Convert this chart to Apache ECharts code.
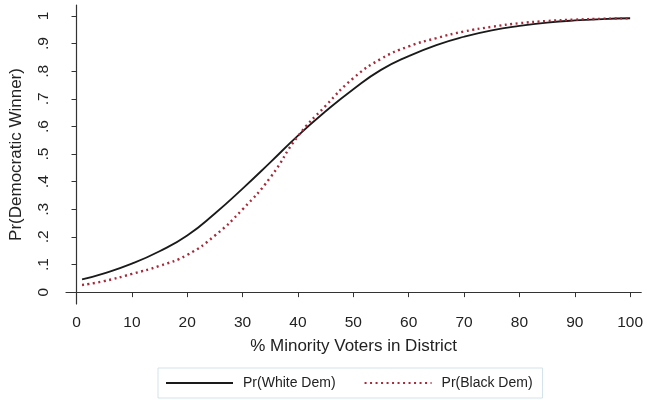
<!DOCTYPE html>
<html>
<head>
<meta charset="utf-8">
<script src="https://cdn.jsdelivr.net/npm/echarts@6/dist/echarts.min.js"></script>
<style>html,body{margin:0;padding:0;background:#fff;}#c{width:646px;height:400px;}</style>
</head>
<body>
<div id="c"></div>
<script>
var xValues = [1, 5, 10, 15, 20, 25, 30, 35, 40, 45, 50, 55, 60, 65, 70, 75, 80, 85, 90, 95, 100];
var whiteDem = [0.046, 0.068, 0.103, 0.148, 0.205, 0.285, 0.375, 0.47, 0.567, 0.655, 0.735, 0.805, 0.855, 0.895, 0.925, 0.948, 0.964, 0.976, 0.984, 0.989, 0.992];
var blackDem = [0.026, 0.04, 0.066, 0.095, 0.135, 0.205, 0.30, 0.415, 0.565, 0.675, 0.775, 0.845, 0.89, 0.92, 0.944, 0.961, 0.974, 0.982, 0.987, 0.99, 0.992];
var xTicks = [0, 10, 20, 30, 40, 50, 60, 70, 80, 90, 100];
var yTicks = [0, 0.1, 0.2, 0.3, 0.4, 0.5, 0.6, 0.7, 0.8, 0.9, 1];
var yTickLabels = ['0', '.1', '.2', '.3', '.4', '.5', '.6', '.7', '.8', '.9', '1'];
var seriesNames = ['Pr(White Dem)', 'Pr(Black Dem)'];

var font = 'Liberation Sans, Arial, Helvetica, sans-serif';
function pairs(ys) { return xValues.map(function (x, i) { return [x, ys[i]]; }); }
function yLabel(v) {
  for (var i = 0; i < yTicks.length; i++) { if (Math.abs(yTicks[i] - v) < 1e-6) return yTickLabels[i]; }
  return '';
}
var chart = echarts.init(document.getElementById('c'), null, {renderer: 'canvas'});
chart.setOption({
  backgroundColor: '#ffffff',
  animation: false,
  textStyle: {fontFamily: font},
  grid: {left: 62, right: 4, top: 5, bottom: 96, containLabel: false},
  xAxis: {
    type: 'value', min: -1.9, max: 102,
    name: '% Minority Voters in District', nameLocation: 'middle', nameGap: 34,
    nameTextStyle: {fontSize: 17, color: '#222', fontFamily: font},
    axisLine: {lineStyle: {color: '#333', width: 1.2}},
    axisTick: {show: true, length: 5, lineStyle: {color: '#333'}, customValues: xTicks},
    axisLabel: {fontSize: 15.5, color: '#222', margin: 11, customValues: xTicks, fontFamily: font},
    splitLine: {show: false}
  },
  yAxis: {
    type: 'value', min: -0.043, max: 1.04,
    name: 'Pr(Democratic Winner)', nameLocation: 'middle', nameGap: 41,
    nameTextStyle: {fontSize: 17, color: '#222', fontFamily: font},
    axisLine: {show: true, lineStyle: {color: '#333', width: 1.2}},
    axisTick: {show: true, length: 5, lineStyle: {color: '#333'}, customValues: yTicks},
    axisLabel: {fontSize: 15.5, color: '#222', margin: 14, rotate: 90, customValues: yTicks, formatter: yLabel, fontFamily: font},
    splitLine: {show: false}
  },
  legend: {
    left: 158, top: 368,
    padding: [8, 10, 8, 7],
    itemWidth: 67, itemHeight: 12, itemGap: 28,
    itemStyle: {opacity: 0, borderWidth: 0},
    borderColor: '#d3e3ea', borderWidth: 1,
    textStyle: {fontSize: 14, color: '#222', padding: [0, 0, 0, 5], fontFamily: font},
    data: seriesNames
  },
  series: [
    {
      name: seriesNames[0], type: 'line', smooth: true, symbol: 'none',
      data: pairs(whiteDem),
      lineStyle: {color: '#1a1a1a', width: 1.8, type: 'solid'},
      itemStyle: {color: '#1a1a1a'}
    },
    {
      name: seriesNames[1], type: 'line', smooth: true, symbol: 'none',
      data: pairs(blackDem),
      lineStyle: {color: '#a52a3a', width: 2.4, type: [2, 3.5]},
      itemStyle: {color: '#a52a3a'}
    }
  ]
});
</script>
</body>
</html>
